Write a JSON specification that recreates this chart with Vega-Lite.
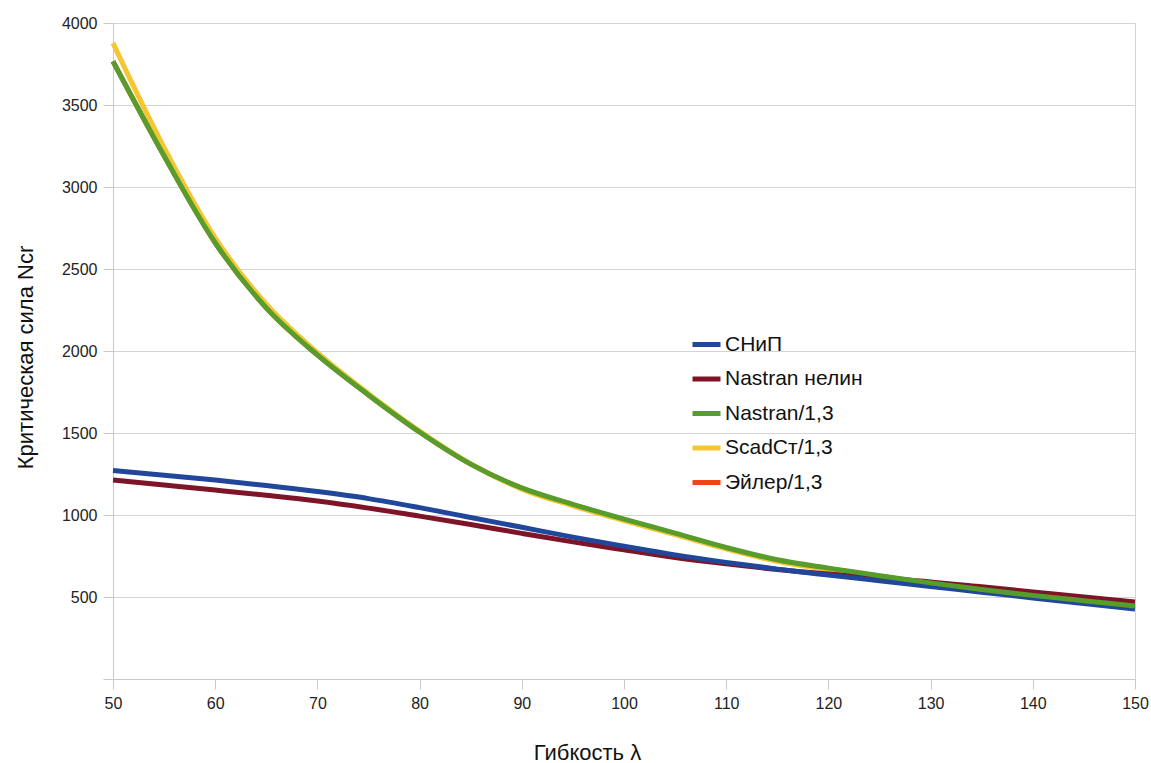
{
  "$schema": "https://vega.github.io/schema/vega-lite/v6.json",
  "width": 1022,
  "height": 656,
  "autosize": {"type": "none"},
  "padding": {"left": 113, "top": 23, "right": 16, "bottom": 84},
  "background": "white",
  "config": {
    "font": "Liberation Sans",
    "view": {"stroke": "#d4d4d4", "strokeWidth": 1}
  },
  "datasets": {
    "curves": [
      {"s": "СНиП", "x": 50, "y": 1271}, {"s": "СНиП", "x": 55, "y": 1243}, {"s": "СНиП", "x": 60, "y": 1213}, {"s": "СНиП", "x": 65, "y": 1180}, {"s": "СНиП", "x": 70, "y": 1143}, {"s": "СНиП", "x": 75, "y": 1100}, {"s": "СНиП", "x": 80, "y": 1045}, {"s": "СНиП", "x": 85, "y": 985}, {"s": "СНиП", "x": 90, "y": 925}, {"s": "СНиП", "x": 95, "y": 865}, {"s": "СНиП", "x": 100, "y": 810}, {"s": "СНиП", "x": 105, "y": 757}, {"s": "СНиП", "x": 110, "y": 711}, {"s": "СНиП", "x": 115, "y": 670}, {"s": "СНиП", "x": 120, "y": 634}, {"s": "СНиП", "x": 125, "y": 599}, {"s": "СНиП", "x": 130, "y": 564}, {"s": "СНиП", "x": 135, "y": 529}, {"s": "СНиП", "x": 140, "y": 494}, {"s": "СНиП", "x": 145, "y": 460}, {"s": "СНиП", "x": 150, "y": 427},
      {"s": "Nastran нелин", "x": 50, "y": 1214}, {"s": "Nastran нелин", "x": 55, "y": 1183}, {"s": "Nastran нелин", "x": 60, "y": 1152}, {"s": "Nastran нелин", "x": 65, "y": 1120}, {"s": "Nastran нелин", "x": 70, "y": 1085}, {"s": "Nastran нелин", "x": 75, "y": 1042}, {"s": "Nastran нелин", "x": 80, "y": 993}, {"s": "Nastran нелин", "x": 85, "y": 942}, {"s": "Nastran нелин", "x": 90, "y": 888}, {"s": "Nastran нелин", "x": 95, "y": 836}, {"s": "Nastran нелин", "x": 100, "y": 788}, {"s": "Nastran нелин", "x": 105, "y": 741}, {"s": "Nastran нелин", "x": 110, "y": 702}, {"s": "Nastran нелин", "x": 115, "y": 668}, {"s": "Nastran нелин", "x": 120, "y": 640}, {"s": "Nastran нелин", "x": 125, "y": 616}, {"s": "Nastran нелин", "x": 130, "y": 592}, {"s": "Nastran нелин", "x": 135, "y": 562}, {"s": "Nastran нелин", "x": 140, "y": 531}, {"s": "Nastran нелин", "x": 145, "y": 500}, {"s": "Nastran нелин", "x": 150, "y": 470},
      {"s": "Nastran/1,3", "x": 50, "y": 3766}, {"s": "Nastran/1,3", "x": 55, "y": 3190}, {"s": "Nastran/1,3", "x": 60, "y": 2660}, {"s": "Nastran/1,3", "x": 65, "y": 2263}, {"s": "Nastran/1,3", "x": 70, "y": 1976}, {"s": "Nastran/1,3", "x": 75, "y": 1732}, {"s": "Nastran/1,3", "x": 80, "y": 1506}, {"s": "Nastran/1,3", "x": 85, "y": 1310}, {"s": "Nastran/1,3", "x": 90, "y": 1165}, {"s": "Nastran/1,3", "x": 95, "y": 1065}, {"s": "Nastran/1,3", "x": 100, "y": 975}, {"s": "Nastran/1,3", "x": 105, "y": 890}, {"s": "Nastran/1,3", "x": 110, "y": 802}, {"s": "Nastran/1,3", "x": 115, "y": 727}, {"s": "Nastran/1,3", "x": 120, "y": 676}, {"s": "Nastran/1,3", "x": 125, "y": 630}, {"s": "Nastran/1,3", "x": 130, "y": 586}, {"s": "Nastran/1,3", "x": 135, "y": 546}, {"s": "Nastran/1,3", "x": 140, "y": 510}, {"s": "Nastran/1,3", "x": 145, "y": 477}, {"s": "Nastran/1,3", "x": 150, "y": 445},
      {"s": "ScadCт/1,3", "x": 50, "y": 3877}, {"s": "ScadCт/1,3", "x": 55, "y": 3240}, {"s": "ScadCт/1,3", "x": 60, "y": 2690}, {"s": "ScadCт/1,3", "x": 65, "y": 2285}, {"s": "ScadCт/1,3", "x": 70, "y": 1990}, {"s": "ScadCт/1,3", "x": 75, "y": 1740}, {"s": "ScadCт/1,3", "x": 80, "y": 1512}, {"s": "ScadCт/1,3", "x": 85, "y": 1312}, {"s": "ScadCт/1,3", "x": 90, "y": 1158}, {"s": "ScadCт/1,3", "x": 95, "y": 1056}, {"s": "ScadCт/1,3", "x": 100, "y": 966}, {"s": "ScadCт/1,3", "x": 105, "y": 880}, {"s": "ScadCт/1,3", "x": 110, "y": 793}, {"s": "ScadCт/1,3", "x": 115, "y": 718}, {"s": "ScadCт/1,3", "x": 120, "y": 668}, {"s": "ScadCт/1,3", "x": 125, "y": 624}, {"s": "ScadCт/1,3", "x": 130, "y": 580}, {"s": "ScadCт/1,3", "x": 135, "y": 542}, {"s": "ScadCт/1,3", "x": 140, "y": 506}, {"s": "ScadCт/1,3", "x": 145, "y": 473}, {"s": "ScadCт/1,3", "x": 150, "y": 440},
      {"s": "Эйлер/1,3", "x": 50, "y": 3766}, {"s": "Эйлер/1,3", "x": 55, "y": 3190}, {"s": "Эйлер/1,3", "x": 60, "y": 2660}, {"s": "Эйлер/1,3", "x": 65, "y": 2263}, {"s": "Эйлер/1,3", "x": 70, "y": 1976}, {"s": "Эйлер/1,3", "x": 75, "y": 1732}, {"s": "Эйлер/1,3", "x": 80, "y": 1506}, {"s": "Эйлер/1,3", "x": 85, "y": 1310}, {"s": "Эйлер/1,3", "x": 90, "y": 1163}, {"s": "Эйлер/1,3", "x": 95, "y": 1062}, {"s": "Эйлер/1,3", "x": 100, "y": 972}, {"s": "Эйлер/1,3", "x": 105, "y": 886}, {"s": "Эйлер/1,3", "x": 110, "y": 798}, {"s": "Эйлер/1,3", "x": 115, "y": 723}, {"s": "Эйлер/1,3", "x": 120, "y": 672}, {"s": "Эйлер/1,3", "x": 125, "y": 627}, {"s": "Эйлер/1,3", "x": 130, "y": 583}, {"s": "Эйлер/1,3", "x": 135, "y": 544}, {"s": "Эйлер/1,3", "x": 140, "y": 508}, {"s": "Эйлер/1,3", "x": 145, "y": 475}, {"s": "Эйлер/1,3", "x": 150, "y": 442}
    ]
  },
  "data": {"name": "curves"},
  "encoding": {
    "x": {
      "field": "x", "type": "quantitative",
      "scale": {"domain": [50, 150], "nice": false, "zero": false},
      "axis": {
        "title": "Гибкость λ",
        "values": [50, 60, 70, 80, 90, 100, 110, 120, 130, 140, 150],
        "grid": false,
        "labelFlush": false,
        "labelOverlap": false,
        "domainColor": "#c8c8c8",
        "tickColor": "#c8c8c8",
        "tickSize": 10,
        "labelFontSize": 16,
        "labelColor": "#222222",
        "labelPadding": 6,
        "labelFont": "Liberation Sans",
        "titleFont": "Liberation Sans",
        "titleFontSize": 22,
        "titleFontWeight": "normal",
        "titleColor": "#111111",
        "titleX": 474,
        "titleY": 73,
        "titleBaseline": "middle",
        "titleAnchor": null
      }
    },
    "y": {
      "field": "y", "type": "quantitative",
      "scale": {"domain": [0, 4000], "nice": false},
      "axis": {
        "title": "Критическая сила Ncr",
        "values": [0, 500, 1000, 1500, 2000, 2500, 3000, 3500, 4000],
        "labelExpr": "datum.value == 0 ? '' : datum.label",
        "format": "d",
        "grid": true,
        "labelFlush": false,
        "gridColor": "#d4d4d4",
        "domainColor": "#c8c8c8",
        "tickColor": "#c8c8c8",
        "tickSize": 10,
        "labelFontSize": 16,
        "labelColor": "#222222",
        "labelPadding": 6,
        "labelFont": "Liberation Sans",
        "titleFont": "Liberation Sans",
        "titleFontSize": 22,
        "titleFontWeight": "normal",
        "titleColor": "#111111",
        "titleX": -88,
        "titleY": 334,
        "titleBaseline": "middle",
        "titleAngle": -90
      }
    },
    "color": {
      "field": "s", "type": "nominal",
      "scale": {
        "domain": ["СНиП", "Nastran нелин", "Nastran/1,3", "ScadCт/1,3", "Эйлер/1,3"],
        "range": ["#21479a", "#7e1428", "#579d2c", "#f6c532", "#f0441c"]
      },
      "legend": {
        "title": null,
        "orient": "none",
        "legendX": 577,
        "legendY": 305,
        "symbolType": "stroke",
        "symbolSize": 784,
        "symbolStrokeWidth": 5,
        "labelFontSize": 21,
        "labelFont": "Liberation Sans",
        "labelColor": "#111111",
        "labelOffset": 2,
        "rowPadding": 7.5,
        "labelLimit": 300
      }
    }
  },
  "layer": [
    {"transform": [{"filter": "datum.s == 'Эйлер/1,3'"}], "mark": {"type": "line", "strokeWidth": 5, "interpolate": "monotone"}},
    {"transform": [{"filter": "datum.s == 'ScadCт/1,3'"}], "mark": {"type": "line", "strokeWidth": 5, "interpolate": "monotone"}},
    {"transform": [{"filter": "datum.s == 'Nastran нелин'"}], "mark": {"type": "line", "strokeWidth": 5, "interpolate": "monotone"}},
    {"transform": [{"filter": "datum.s == 'СНиП'"}], "mark": {"type": "line", "strokeWidth": 5, "interpolate": "monotone"}},
    {"transform": [{"filter": "datum.s == 'Nastran/1,3'"}], "mark": {"type": "line", "strokeWidth": 5, "interpolate": "monotone"}}
  ]
}
